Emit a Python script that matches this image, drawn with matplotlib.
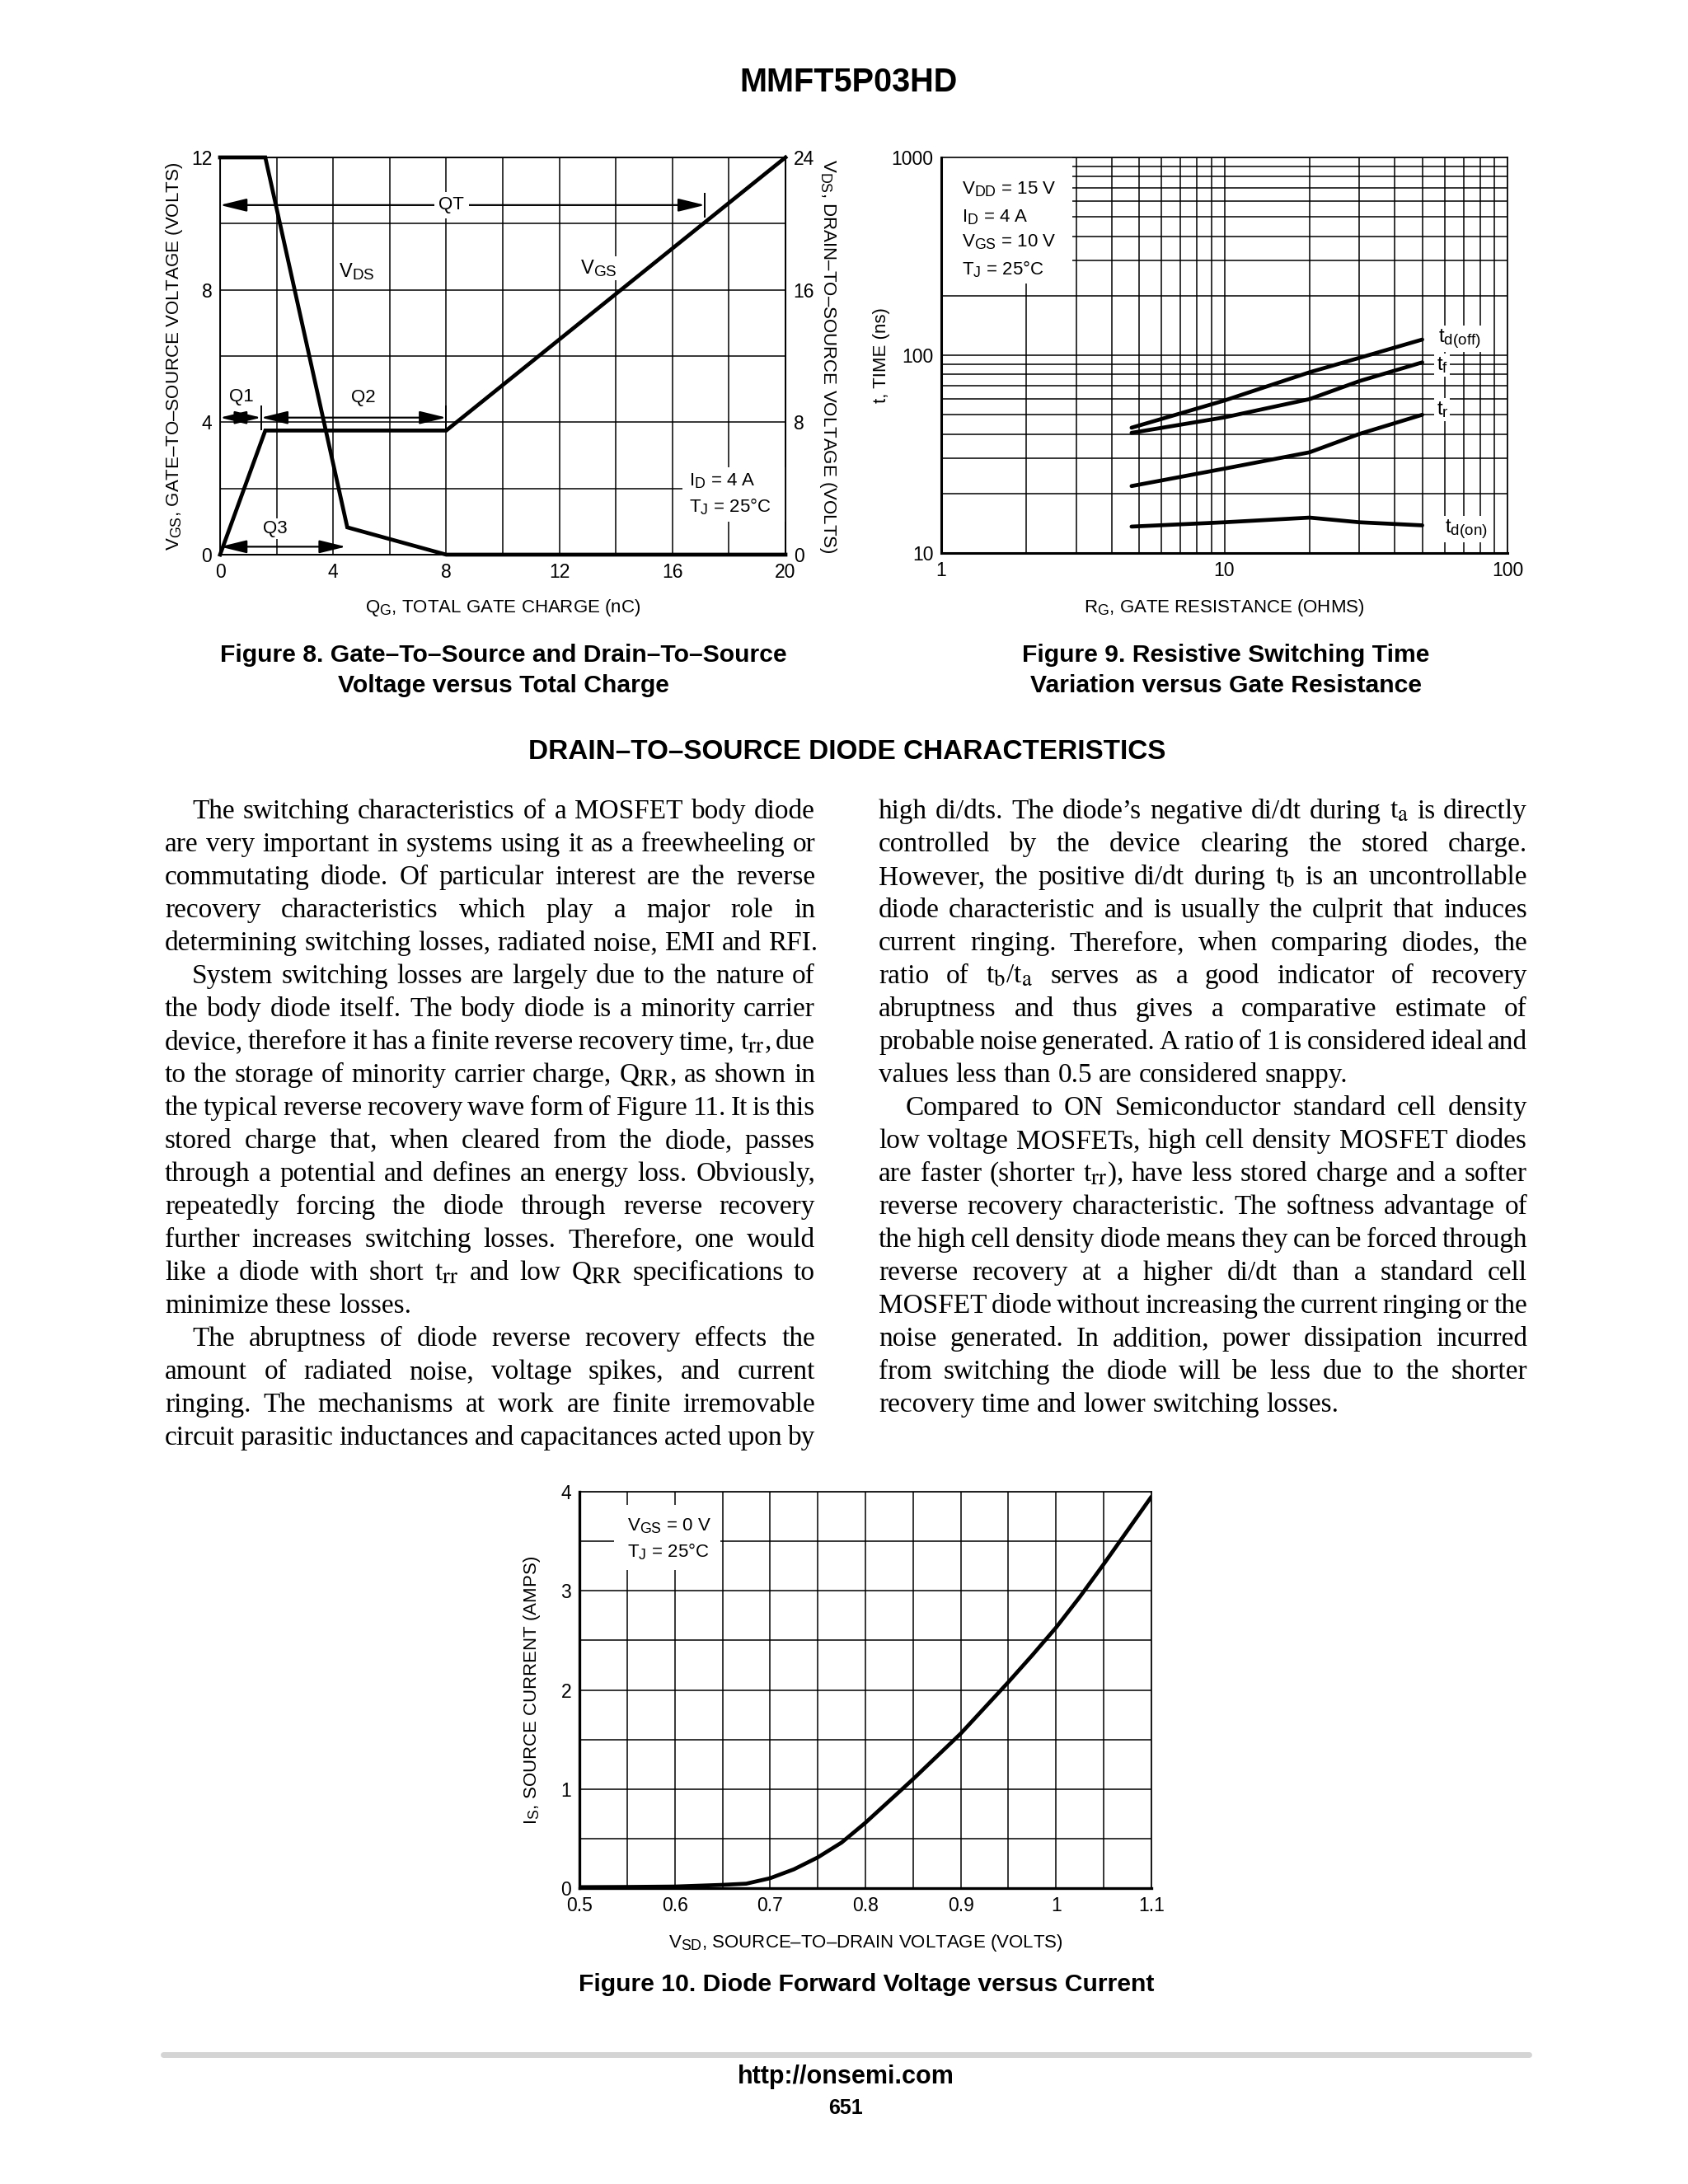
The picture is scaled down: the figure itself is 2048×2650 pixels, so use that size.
import numpy as np
import matplotlib
matplotlib.use('Agg')
import matplotlib.pyplot as plt
import matplotlib._mathtext as mt
from matplotlib import font_manager
from matplotlib.lines import Line2D
from matplotlib.patches import Rectangle
from matplotlib.ticker import LogLocator, NullFormatter

# datasheet subscripts are only a little smaller than the base letters
mt.SHRINK_FACTOR = 0.8

# --- chart font: narrow Helvetica look if available
try:
    font_manager.findfont('Liberation Sans Narrow', fallback_to_default=False)
    chart_font, cfs = 'Liberation Sans Narrow', 19
except ValueError:
    chart_font, cfs = 'Liberation Sans', 16

plt.rcParams['font.family'] = [chart_font, 'DejaVu Sans']
plt.rcParams['mathtext.fontset'] = 'custom'
plt.rcParams['mathtext.rm'] = chart_font
plt.rcParams['mathtext.it'] = chart_font + ':italic'
plt.rcParams['mathtext.bf'] = chart_font + ':bold'

# ---------------- data: Figure 8 (gate charge)
qg_vgs = [0, 1.6, 8.0, 20]
vgs_curve = [0, 3.75, 3.75, 12]
qg_vds = [0, 1.6, 4.5, 8.0, 20]
vds_curve = [24, 24, 1.65, 0, 0]
qg_ticks = [0, 4, 8, 12, 16, 20]
vgs_ticks = [0, 4, 8, 12]
vds_ticks = [0, 8, 16, 24]
q_names = ['QT', 'Q1', 'Q2', 'Q3']
q_start = [0, 0, 1.45, 0]
q_end = [17.15, 1.45, 8.0, 4.45]
q_level = [10.56, 4.14, 4.14, 0.24]
q_marks = [17.15, 1.45, 8.0]

# ---------------- data: Figure 9 (switching time)
rg = [4.7, 10, 20, 30, 50]
td_off = [43, 59, 82, 97, 120]
t_f = [40.5, 48.5, 60, 74, 92]
t_r = [21.8, 26.7, 32.3, 40, 50]
td_on = [13.6, 14.3, 15.1, 14.3, 13.8]

# ---------------- data: Figure 10 (diode forward)
vsd = [0.5, 0.55, 0.6, 0.65, 0.675, 0.7, 0.725, 0.75, 0.775, 0.8,
       0.825, 0.85, 0.875, 0.9, 0.925, 0.95, 0.975, 1.0, 1.025, 1.05,
       1.075, 1.1]
i_s = [0.01, 0.012, 0.016, 0.033, 0.045, 0.10, 0.19, 0.31, 0.46, 0.66,
       0.88, 1.10, 1.33, 1.56, 1.82, 2.08, 2.35, 2.63, 2.94, 3.27,
       3.61, 3.95]
vsd_ticks = [0.5, 0.6, 0.7, 0.8, 0.9, 1.0, 1.1]
vsd_labels = ['0.5', '0.6', '0.7', '0.8', '0.9', '1', '1.1']

# ---------------- body text
left_lines = [
    'The switching characteristics of a MOSFET body diode',
    'are very important in systems using it as a freewheeling or',
    'commutating diode. Of particular interest are the reverse',
    'recovery characteristics which play a major role in',
    'determining switching losses, radiated noise, EMI and RFI.',
    'System switching losses are largely due to the nature of',
    'the body diode itself. The body diode is a minority carrier',
    'device, therefore it has a finite reverse recovery time, t$_{\\mathrm{rr}}$, due',
    'to the storage of minority carrier charge, Q$_{\\mathrm{RR}}$, as shown in',
    'the typical reverse recovery wave form of Figure 11. It is this',
    'stored charge that, when cleared from the diode, passes',
    'through a potential and defines an energy loss. Obviously,',
    'repeatedly forcing the diode through reverse recovery',
    'further increases switching losses. Therefore, one would',
    'like a diode with short t$_{\\mathrm{rr}}$ and low Q$_{\\mathrm{RR}}$ specifications to',
    'minimize these losses.',
    'The abruptness of diode reverse recovery effects the',
    'amount of radiated noise, voltage spikes, and current',
    'ringing. The mechanisms at work are finite irremovable',
    'circuit parasitic inductances and capacitances acted upon by',
]
left_indent = [0, 5, 16]
left_last = [4, 15]
right_lines = [
    'high di/dts. The diode\u2019s negative di/dt during t$_{\\mathrm{a}}$ is directly',
    'controlled by the device clearing the stored charge.',
    'However, the positive di/dt during t$_{\\mathrm{b}}$ is an uncontrollable',
    'diode characteristic and is usually the culprit that induces',
    'current ringing. Therefore, when comparing diodes, the',
    'ratio of t$_{\\mathrm{b}}$/t$_{\\mathrm{a}}$ serves as a good indicator of recovery',
    'abruptness and thus gives a comparative estimate of',
    'probable noise generated. A ratio of 1 is considered ideal and',
    'values less than 0.5 are considered snappy.',
    'Compared to ON Semiconductor standard cell density',
    'low voltage MOSFETs, high cell density MOSFET diodes',
    'are faster (shorter t$_{\\mathrm{rr}}$), have less stored charge and a softer',
    'reverse recovery characteristic. The softness advantage of',
    'the high cell density diode means they can be forced through',
    'reverse recovery at a higher di/dt than a standard cell',
    'MOSFET diode without increasing the current ringing or the',
    'noise generated. In addition, power dissipation incurred',
    'from switching the diode will be less due to the shorter',
    'recovery time and lower switching losses.',
]
right_indent = [9]
right_last = [8, 18]

W, H = 2048, 2650
fig = plt.figure(figsize=(W / 100, H / 100), dpi=100)
fig.patch.set_facecolor('white')


def px_rect(left, top, right, bottom):
    return [left / W, 1 - bottom / H, (right - left) / W, (bottom - top) / H]


def fx(x):
    return x / W


def fy(y):
    return 1 - y / H


sans = 'Liberation Sans'
fig.text(fx(1030), fy(100), 'MMFT5P03HD', ha='center', va='center',
         fontsize=28.5, weight='bold', family=sans)

white = dict(facecolor='white', edgecolor='none', pad=1.5)

# ================= Figure 8
ax1 = fig.add_axes(px_rect(267, 191, 953, 673))
ax1.set_xlim(0, 20)
ax1.set_ylim(0, 12)
ax1.set_xticks(qg_ticks)
ax1.set_xticks([2, 6, 10, 14, 18], minor=True)
ax1.set_yticks(vgs_ticks)
ax1.set_yticks([2, 6, 10], minor=True)
ax1.grid(which='both', color='black', lw=1.1)
ax1.tick_params(which='both', length=0, pad=7, labelsize=cfs + 0.5)
for s in ax1.spines.values():
    s.set_linewidth(1.3)
ax1.plot(qg_vgs, vgs_curve, color='black', lw=3.4, solid_joinstyle='miter',
         clip_on=False, zorder=4)

for name, a, b, lev in zip(q_names, q_start, q_end, q_level):
    ax1.annotate('', xy=(b, lev), xytext=(a, lev),
                 arrowprops=dict(arrowstyle='<|-|>,head_length=0.9,head_width=0.22',
                                 color='black', lw=1.6, shrinkA=0, shrinkB=0,
                                 mutation_scale=22), zorder=3)
ax1.plot(q_marks, [q_level[0], q_level[1], q_level[2]], ls='none', marker='|',
         markersize=22, mew=1.4, color='black', zorder=3)
ax1.text(8.19, q_level[0], 'QT', ha='center', va='center', fontsize=cfs,
         bbox=dict(facecolor='white', edgecolor='none', pad=4), zorder=6)
ax1.text(0.75, 4.78, 'Q1', ha='center', va='center', fontsize=cfs, bbox=white)
ax1.text(5.07, 4.75, 'Q2', ha='center', va='center', fontsize=cfs, bbox=white)
ax1.text(1.95, 0.78, 'Q3', ha='center', va='center', fontsize=cfs, bbox=white)
ax1.text(4.83, 8.56, r'V$_{\rm DS}$', ha='center', va='center', fontsize=cfs + 1, bbox=white)
ax1.text(13.39, 8.65, r'V$_{\rm GS}$', ha='center', va='center', fontsize=cfs + 1, bbox=white)
ax1.add_patch(Rectangle((16.35, 1.0), 3.65, 1.65, facecolor='white',
                        edgecolor='none', zorder=1.8))
ax1.text(16.6, 2.07, r'I$_{\rm D}$ = 4 A', fontsize=cfs, va='baseline')
ax1.text(16.6, 1.29, r'T$_{\rm J}$ = 25°C', fontsize=cfs, va='baseline')

ax1.set_xlabel(r'Q$_{\rm G}$, TOTAL GATE CHARGE (nC)', fontsize=cfs)
ax1.xaxis.set_label_coords(0.5, (673 - 738) / 482)
ax1.xaxis.label.set_va('center')
ax1.set_ylabel(r'V$_{\rm GS}$, GATE–TO–SOURCE VOLTAGE (VOLTS)', fontsize=cfs)
ax1.yaxis.set_label_coords((211 - 267) / 686, 0.5)
ax1.yaxis.label.set_va('center')

ax1r = ax1.twinx()
ax1r.set_ylim(0, 24)
ax1r.set_yticks(vds_ticks)
ax1r.tick_params(length=0, pad=7, labelsize=cfs + 0.5)
ax1r.plot(qg_vds, vds_curve, color='black', lw=3.4, solid_joinstyle='miter',
          clip_on=False, zorder=4)
ax1r.set_ylabel(r'V$_{\rm DS}$, DRAIN–TO–SOURCE VOLTAGE (VOLTS)',
                fontsize=cfs, rotation=270)
ax1r.yaxis.set_label_coords((1004 - 267) / 686, 0.5)
ax1r.yaxis.label.set_va('center')
ax1r.yaxis.label.set_ha('center')

# ================= Figure 9
ax2 = fig.add_axes(px_rect(1142, 191, 1829, 671))
ax2.set_xscale('log')
ax2.set_yscale('log')
ax2.set_xlim(1, 100)
ax2.set_ylim(10, 1000)
ax2.xaxis.set_minor_locator(LogLocator(10, subs=range(2, 10)))
ax2.yaxis.set_minor_locator(LogLocator(10, subs=range(2, 10)))
ax2.xaxis.set_minor_formatter(NullFormatter())
ax2.yaxis.set_minor_formatter(NullFormatter())
ax2.set_xticks([1, 10, 100], labels=['1', '10', '100'])
ax2.set_yticks([10, 100, 1000], labels=['10', '100', '1000'])
ax2.grid(which='both', color='black', lw=1.1)
ax2.tick_params(which='both', length=0, pad=7, labelsize=cfs + 0.5)
for side, s in ax2.spines.items():
    s.set_linewidth(2.2 if side in ('left', 'bottom') else 1.2)
for series in (td_off, t_f, t_r, td_on):
    ax2.plot(rg, series, color='black', lw=3.4, solid_capstyle='round', zorder=3)
ax2.add_patch(Rectangle((0, 0.682), 0.231, 0.318, transform=ax2.transAxes,
                        facecolor='white', edgecolor='none', zorder=1.8))
ax2.text(1.18, 656, r'V$_{\rm DD}$ = 15 V', fontsize=cfs, va='baseline')
ax2.text(1.18, 472, r'I$_{\rm D}$ = 4 A', fontsize=cfs, va='baseline')
ax2.text(1.18, 352, r'V$_{\rm GS}$ = 10 V', fontsize=cfs, va='baseline')
ax2.text(1.18, 256, r'T$_{\rm J}$ = 25°C', fontsize=cfs, va='baseline')
ax2.text(57, 121, r't$_{\rm d(off)}$', fontsize=cfs + 1, va='center', bbox=white)
ax2.text(56, 89, r't$_{\rm f}$', fontsize=cfs + 1, va='center', bbox=white)
ax2.text(56, 53, r't$_{\rm r}$', fontsize=cfs + 1, va='center', bbox=white)
ax2.text(60, 13.2, r't$_{\rm d(on)}$', fontsize=cfs + 1, va='center', bbox=white)
ax2.set_xlabel(r'R$_{\rm G}$, GATE RESISTANCE (OHMS)', fontsize=cfs)
ax2.xaxis.set_label_coords(0.5, (671 - 737) / 480)
ax2.xaxis.label.set_va('center')
ax2.set_ylabel('t, TIME (ns)', fontsize=cfs)
ax2.yaxis.set_label_coords((1069 - 1142) / 687, 0.5)
ax2.yaxis.label.set_va('center')

# ================= Figure 10
ax3 = fig.add_axes(px_rect(703, 1810, 1397, 2291))
ax3.set_xlim(0.5, 1.1)
ax3.set_ylim(0, 4)
ax3.set_xticks(vsd_ticks, labels=vsd_labels)
ax3.set_xticks(np.arange(0.55, 1.1, 0.1), minor=True)
ax3.set_yticks([0, 1, 2, 3, 4])
ax3.set_yticks([0.5, 1.5, 2.5, 3.5], minor=True)
ax3.grid(which='both', color='black', lw=1.1)
ax3.tick_params(which='both', length=0, pad=7, labelsize=cfs + 0.5)
for side, s in ax3.spines.items():
    s.set_linewidth(2.4 if side in ('left', 'bottom') else 1.2)
ax3.plot(vsd, i_s, color='black', lw=3.4, solid_capstyle='round', zorder=3)
ax3.add_patch(Rectangle((0.536, 3.21), 0.112, 0.66, facecolor='white',
                        edgecolor='none', zorder=1.8))
ax3.text(0.55, 3.605, r'V$_{\rm GS}$ = 0 V', fontsize=cfs, va='baseline')
ax3.text(0.55, 3.34, r'T$_{\rm J}$ = 25°C', fontsize=cfs, va='baseline')
ax3.set_xlabel(r'V$_{\rm SD}$, SOURCE–TO–DRAIN VOLTAGE (VOLTS)', fontsize=cfs)
ax3.xaxis.set_label_coords(0.5, (2291 - 2357) / 481)
ax3.xaxis.label.set_va('center')
ax3.set_ylabel(r'I$_{\rm S}$, SOURCE CURRENT (AMPS)', fontsize=cfs)
ax3.yaxis.set_label_coords((645 - 703) / 694, 0.5)
ax3.yaxis.label.set_va('center')

# ================= captions and heading
cap = dict(ha='center', va='center', fontsize=21.7, weight='bold', family=sans)
fig.text(fx(611), fy(795), 'Figure 8. Gate–To–Source and Drain–To–Source', **cap)
fig.text(fx(611), fy(832), 'Voltage versus Total Charge', **cap)
fig.text(fx(1487), fy(795), 'Figure 9. Resistive Switching Time', **cap)
fig.text(fx(1487), fy(832), 'Variation versus Gate Resistance', **cap)
fig.text(fx(1028), fy(913), 'DRAIN–TO–SOURCE DIODE CHARACTERISTICS',
         ha='center', va='center', fontsize=24, weight='bold', family=sans)
fig.text(fx(1051), fy(2408), 'Figure 10. Diode Forward Voltage versus Current', **cap)

fig.add_artist(Line2D([fx(198), fx(1855)], [fy(2493), fy(2493)], lw=5,
                      color='#d4d4d4', solid_capstyle='round'))
fig.text(fx(1026), fy(2520), 'http://onsemi.com', ha='center', va='center',
         fontsize=22, weight='bold', family=sans)
fig.text(fx(1026), fy(2558), '651', ha='center', va='center',
         fontsize=18, weight='bold', family=sans)

# ================= justified body text
renderer = fig.canvas.get_renderer()
body_fs = 24.0
lead = 40.0
indent_px = 33


def make_words(lines, fs):
    out = []
    for line in lines:
        ts = [fig.text(0, 0, w, fontsize=fs, family='Liberation Serif',
                       math_fontfamily='stix', va='baseline') for w in line.split(' ')]
        out.append(ts)
    return out


def widths(ts):
    return [t.get_window_extent(renderer).width for t in ts]


columns = [(left_lines, left_indent, left_last, 200, 989),
           (right_lines, right_indent, right_last, 1066, 1853)]

# find a size at which the tightest line still fits
all_words = []
scale = 1.0
for lines, ind, last, x0, x1 in columns:
    words = make_words(lines, body_fs)
    all_words.append(words)
    for i, ts in enumerate(words):
        need = sum(widths(ts)) + 0.16 * body_fs * 1.389 * (len(ts) - 1)
        need += indent_px if i in ind else 0
        scale = min(scale, (x1 - x0) / need)
fs = body_fs * scale

for (lines, ind, last, x0, x1), words in zip(columns, all_words):
    for i, ts in enumerate(words):
        for t in ts:
            t.set_fontsize(fs)
        ws = widths(ts)
        start = x0 + (indent_px if i in ind else 0)
        if i in last or len(ts) == 1:
            gap = 0.25 * fs * 1.389
        else:
            gap = (x1 - start - sum(ws)) / (len(ts) - 1)
        x = start
        y = 993 + i * lead
        for t, w in zip(ts, ws):
            t.set_position((fx(x), fy(y)))
            x += w + gap

fig.savefig('out.png', dpi=100, facecolor='white')
